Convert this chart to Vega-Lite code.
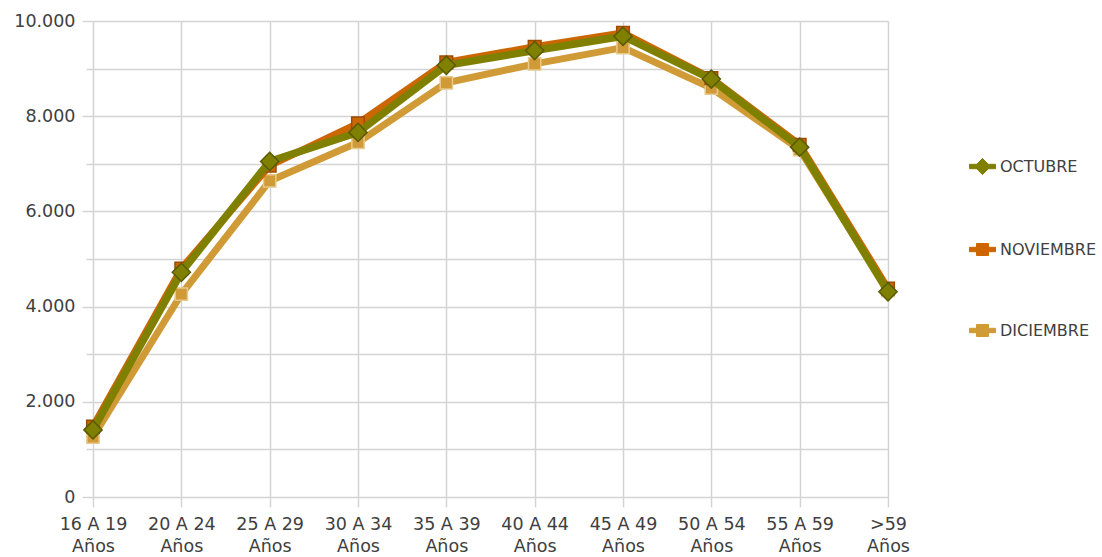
{
  "$schema": "https://vega.github.io/schema/vega-lite/v6.json",
  "width": 795,
  "height": 476,
  "autosize": {"type": "none"},
  "padding": {"left": 93, "top": 21, "right": 214, "bottom": 60},
  "background": "white",
  "config": {"view": {"stroke": null}, "font": "DejaVu Sans"},
  "data": {
    "values": [
      {"edad": "16 A 19 Años", "mes": "DICIEMBRE", "valor": 1260},
      {"edad": "20 A 24 Años", "mes": "DICIEMBRE", "valor": 4260},
      {"edad": "25 A 29 Años", "mes": "DICIEMBRE", "valor": 6640},
      {"edad": "30 A 34 Años", "mes": "DICIEMBRE", "valor": 7450},
      {"edad": "35 A 39 Años", "mes": "DICIEMBRE", "valor": 8700},
      {"edad": "40 A 44 Años", "mes": "DICIEMBRE", "valor": 9100},
      {"edad": "45 A 49 Años", "mes": "DICIEMBRE", "valor": 9440},
      {"edad": "50 A 54 Años", "mes": "DICIEMBRE", "valor": 8590},
      {"edad": "55 A 59 Años", "mes": "DICIEMBRE", "valor": 7300},
      {"edad": ">59 Años", "mes": "DICIEMBRE", "valor": 4340},
      {"edad": "16 A 19 Años", "mes": "NOVIEMBRE", "valor": 1480},
      {"edad": "20 A 24 Años", "mes": "NOVIEMBRE", "valor": 4800},
      {"edad": "25 A 29 Años", "mes": "NOVIEMBRE", "valor": 6960},
      {"edad": "30 A 34 Años", "mes": "NOVIEMBRE", "valor": 7850},
      {"edad": "35 A 39 Años", "mes": "NOVIEMBRE", "valor": 9130},
      {"edad": "40 A 44 Años", "mes": "NOVIEMBRE", "valor": 9460},
      {"edad": "45 A 49 Años", "mes": "NOVIEMBRE", "valor": 9750},
      {"edad": "50 A 54 Años", "mes": "NOVIEMBRE", "valor": 8800},
      {"edad": "55 A 59 Años", "mes": "NOVIEMBRE", "valor": 7400},
      {"edad": ">59 Años", "mes": "NOVIEMBRE", "valor": 4380},
      {"edad": "16 A 19 Años", "mes": "OCTUBRE", "valor": 1410},
      {"edad": "20 A 24 Años", "mes": "OCTUBRE", "valor": 4720},
      {"edad": "25 A 29 Años", "mes": "OCTUBRE", "valor": 7050},
      {"edad": "30 A 34 Años", "mes": "OCTUBRE", "valor": 7660},
      {"edad": "35 A 39 Años", "mes": "OCTUBRE", "valor": 9070},
      {"edad": "40 A 44 Años", "mes": "OCTUBRE", "valor": 9380},
      {"edad": "45 A 49 Años", "mes": "OCTUBRE", "valor": 9680},
      {"edad": "50 A 54 Años", "mes": "OCTUBRE", "valor": 8780},
      {"edad": "55 A 59 Años", "mes": "OCTUBRE", "valor": 7350},
      {"edad": ">59 Años", "mes": "OCTUBRE", "valor": 4310}
    ]
  },
  "encoding": {
    "x": {
      "field": "edad",
      "type": "ordinal",
      "sort": null,
      "scale": {"type": "point", "padding": 0},
      "title": null,
      "axis": {
        "domain": false,
        "grid": true,
        "gridColor": "#d4d4d4",
        "gridWidth": 1.5,
        "tickColor": "#d4d4d4",
        "tickWidth": 1.5,
        "tickSize": 10,
        "labelAngle": 0,
        "labelFontSize": 17.5,
        "labelColor": "#404040",
        "labelBaseline": "top",
        "labelPadding": 8,
        "labelLineHeight": 22,
        "labelExpr": "[replace(datum.label, ' Años', ''), 'Años']"
      }
    },
    "y": {
      "field": "valor",
      "type": "quantitative",
      "scale": {"domain": [0, 10000], "nice": false},
      "title": null,
      "axis": {
        "values": [0, 1000, 2000, 3000, 4000, 5000, 6000, 7000, 8000, 9000, 10000],
        "domain": false,
        "grid": true,
        "gridColor": "#d4d4d4",
        "gridWidth": 1.5,
        "tickColor": "#d4d4d4",
        "tickWidth": 1.5,
        "tickSize": {"condition": {"test": "datum.value % 2000 === 0", "value": 11}, "value": 7},
        "labelFontSize": 17.5,
        "labelColor": "#404040",
        "labelPadding": 7,
        "labelExpr": "datum.value % 2000 === 0 ? replace(format(datum.value, ','), ',', '.') : ''"
      }
    },
    "color": {
      "field": "mes",
      "type": "nominal",
      "scale": {
        "domain": ["OCTUBRE", "NOVIEMBRE", "DICIEMBRE"],
        "range": ["#808000", "#cc6600", "#d09b36"]
      },
      "legend": {
        "title": null,
        "orient": "none",
        "legendX": 879,
        "legendY": 135,
        "direction": "vertical",
        "padding": 0,
        "symbolSize": 400,
        "rowPadding": 62,
        "labelOffset": 7,
        "labelFontSize": 16,
        "labelColor": "#404040",
        "encode": {
          "symbols": {
            "update": {
              "shape": {"signal": "datum.value === 'OCTUBRE' ? 'M-1.3,-0.22H1.3V0.22H-1.3Z M0,-0.8L0.8,0L0,0.8L-0.8,0Z' : 'M-1.3,-0.22H1.3V0.22H-1.3Z M-0.6,-0.6H0.6V0.6H-0.6Z'"},
              "fill": {"scale": "color", "field": "value"},
              "stroke": {"signal": "datum.value === 'OCTUBRE' ? '#5a5a00' : datum.value === 'NOVIEMBRE' ? '#9a4c00' : '#e8c98c'"},
              "strokeWidth": {"value": 1},
              "opacity": {"value": 1},
              "fillOpacity": {"value": 1}
            }
          }
        }
      }
    }
  },
  "layer": [
    {
      "transform": [{"filter": "datum.mes === 'DICIEMBRE'"}],
      "mark": {"type": "line", "strokeWidth": 7}
    },
    {
      "transform": [{"filter": "datum.mes === 'DICIEMBRE'"}],
      "mark": {"type": "point", "shape": "square", "size": 150, "filled": true, "opacity": 1, "stroke": "#e8c98c", "strokeWidth": 1.5}
    },
    {
      "transform": [{"filter": "datum.mes === 'NOVIEMBRE'"}],
      "mark": {"type": "line", "strokeWidth": 7}
    },
    {
      "transform": [{"filter": "datum.mes === 'NOVIEMBRE'"}],
      "mark": {"type": "point", "shape": "square", "size": 160, "filled": true, "opacity": 1, "stroke": "#9a4c00", "strokeWidth": 1.5}
    },
    {
      "transform": [{"filter": "datum.mes === 'OCTUBRE'"}],
      "mark": {"type": "line", "strokeWidth": 7.5}
    },
    {
      "transform": [{"filter": "datum.mes === 'OCTUBRE'"}],
      "mark": {"type": "point", "shape": "diamond", "size": 330, "filled": true, "opacity": 1, "stroke": "#5a5a00", "strokeWidth": 1.5}
    }
  ]
}
